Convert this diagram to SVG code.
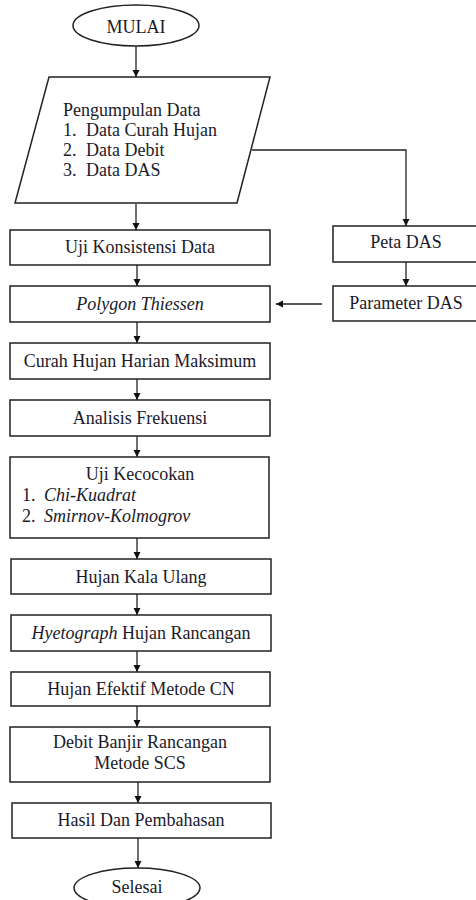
<svg xmlns="http://www.w3.org/2000/svg" width="476" height="900" viewBox="0 0 476 900">
<style>
.s{fill:#fff;stroke:#222;stroke-width:1.5}
.t{font-family:'Liberation Serif','Times New Roman',Times,serif;font-size:18px;fill:#1a1a2a}
.c{text-anchor:middle}
.i{font-style:italic}
.l{fill:none;stroke:#222;stroke-width:1.3}
</style>
<defs>
<marker id="ah" markerWidth="8" markerHeight="8" refX="7" refY="4" orient="auto" markerUnits="userSpaceOnUse">
<path d="M0,0.5 L7,4 L0,7.5 Z" fill="#111"/>
</marker>
</defs>
<rect width="476" height="900" fill="#fff"/>
<g id="connectors">
<line class="l" x1="136" y1="46" x2="136" y2="77" marker-end="url(#ah)"/>
<line class="l" x1="136" y1="204" x2="136" y2="230" marker-end="url(#ah)"/>
<polyline class="l" points="252,150 406,150 406,226" marker-end="url(#ah)"/>
<line class="l" x1="137" y1="265" x2="137" y2="286" marker-end="url(#ah)"/>
<line class="l" x1="406" y1="262" x2="406" y2="286" marker-end="url(#ah)"/>
<line class="l" x1="322" y1="304" x2="276" y2="304" marker-end="url(#ah)"/>
<line class="l" x1="137" y1="322" x2="137" y2="343" marker-end="url(#ah)"/>
<line class="l" x1="137" y1="379" x2="137" y2="400" marker-end="url(#ah)"/>
<line class="l" x1="137" y1="436" x2="137" y2="457" marker-end="url(#ah)"/>
<line class="l" x1="137" y1="538" x2="137" y2="559" marker-end="url(#ah)"/>
<line class="l" x1="137" y1="594" x2="137" y2="615" marker-end="url(#ah)"/>
<line class="l" x1="137" y1="651" x2="137" y2="672" marker-end="url(#ah)"/>
<line class="l" x1="137" y1="706" x2="137" y2="727" marker-end="url(#ah)"/>
<line class="l" x1="138" y1="782" x2="138" y2="803" marker-end="url(#ah)"/>
<line class="l" x1="138" y1="838" x2="138" y2="868" marker-end="url(#ah)"/>
</g>
<g font-family="Liberation Serif" font-size="18">
<g id="mulai">
<ellipse class="s" cx="136" cy="25.5" rx="63" ry="20.5"/>
<text class="t c" x="136" y="33">MULAI</text>
</g>
<g id="pengumpulan">
<polygon class="s" points="49,77 270,77 237,203 15,203"/>
<text class="t" x="63" y="116">Pengumpulan Data</text>
<text class="t" x="63" y="136">1.</text><text class="t" x="86" y="136">Data Curah Hujan</text>
<text class="t" x="63" y="156">2.</text><text class="t" x="86" y="156">Data Debit</text>
<text class="t" x="63" y="176">3.</text><text class="t" x="86" y="176">Data DAS</text>
</g>
<g id="uji-konsistensi">
<rect class="s" x="10" y="230" width="260" height="35"/>
<text class="t c" x="140" y="253">Uji Konsistensi Data</text>
</g>
<g id="peta-das">
<rect class="s" x="333" y="226" width="150" height="36"/>
<text class="t c" x="406" y="248">Peta DAS</text>
</g>
<g id="parameter-das">
<rect class="s" x="333" y="286" width="150" height="35"/>
<text class="t c" x="406" y="309">Parameter DAS</text>
</g>
<g id="polygon-thiessen">
<rect class="s" x="10" y="286" width="260" height="36"/>
<text class="t c i" x="140" y="310">Polygon Thiessen</text>
</g>
<g id="curah-hujan">
<rect class="s" x="10" y="343" width="260" height="36"/>
<text class="t c" x="140" y="367">Curah Hujan Harian Maksimum</text>
</g>
<g id="analisis">
<rect class="s" x="10" y="400" width="260" height="36"/>
<text class="t c" x="140" y="424">Analisis Frekuensi</text>
</g>
<g id="uji-kecocokan">
<rect class="s" x="10" y="457" width="259" height="81"/>
<text class="t c" x="140" y="480">Uji Kecocokan</text>
<text class="t" x="22" y="501">1.</text><text class="t i" x="44" y="501">Chi-Kuadrat</text>
<text class="t" x="22" y="522">2.</text><text class="t i" x="44" y="522">Smirnov-Kolmogrov</text>
</g>
<g id="kala-ulang">
<rect class="s" x="11" y="559" width="260" height="35"/>
<text class="t c" x="141" y="583">Hujan Kala Ulang</text>
</g>
<g id="hyetograph">
<rect class="s" x="11" y="615" width="260" height="36"/>
<text class="t c" x="141" y="639"><tspan class="i">Hyetograph</tspan> Hujan Rancangan</text>
</g>
<g id="hujan-efektif">
<rect class="s" x="11" y="672" width="259" height="34"/>
<text class="t c" x="141" y="695">Hujan Efektif Metode CN</text>
</g>
<g id="debit-banjir">
<rect class="s" x="10" y="727" width="260" height="55"/>
<text class="t c" x="140" y="748">Debit Banjir Rancangan</text>
<text class="t c" x="140" y="769">Metode SCS</text>
</g>
<g id="hasil">
<rect class="s" x="12" y="803" width="259" height="35"/>
<text class="t c" x="141" y="826">Hasil Dan Pembahasan</text>
</g>
<g id="selesai">
<ellipse class="s" cx="137" cy="888" rx="63" ry="20"/>
<text class="t c" x="137" y="893">Selesai</text>
</g>
</g>
</svg>
